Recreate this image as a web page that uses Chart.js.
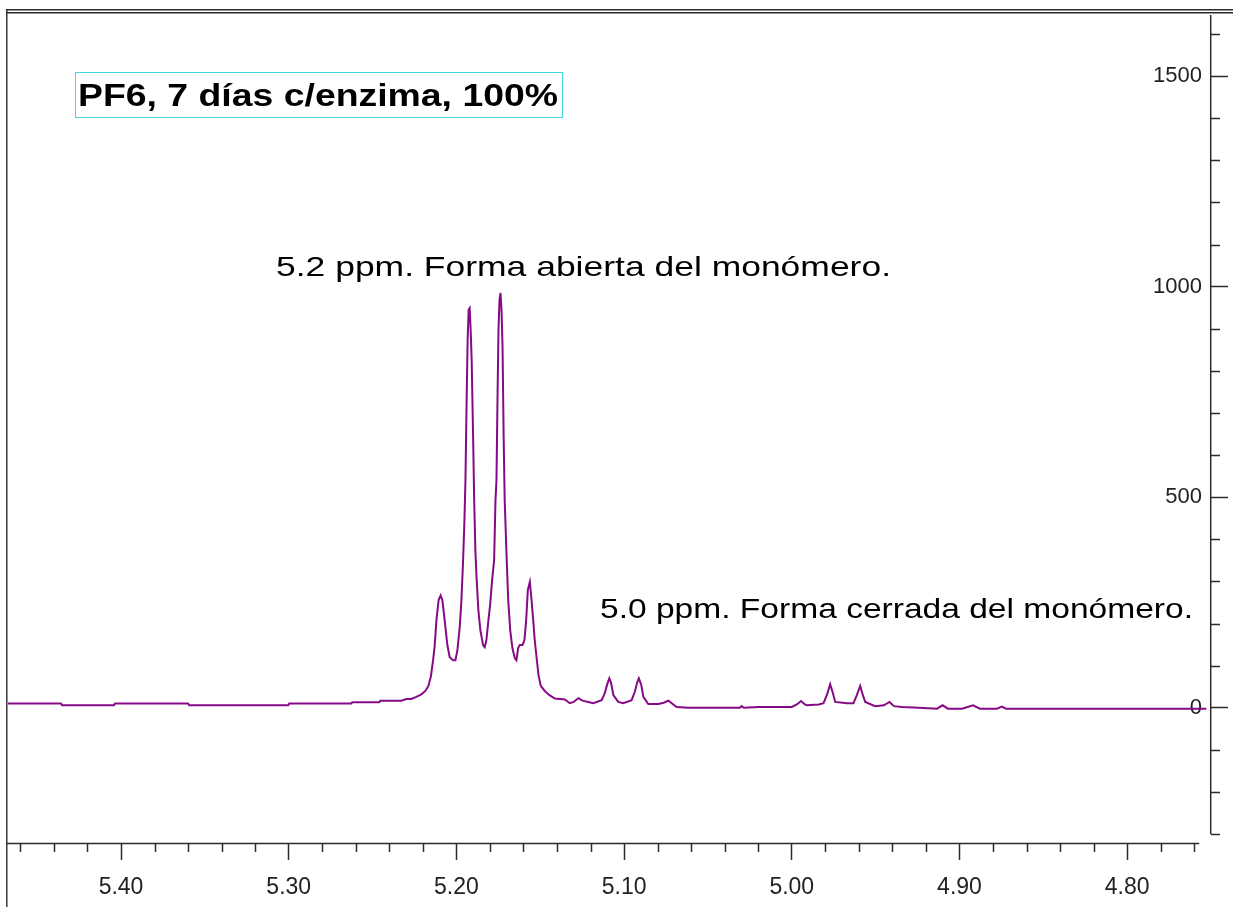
<!DOCTYPE html>
<html lang="es">
<head>
    <meta charset="UTF-8">
    <title>PF6, 7 días c/enzima, 100%</title>
    <script src="https://cdn.jsdelivr.net/npm/chart.js"></script>
    <style>
        body {
            margin: 0;
            padding: 0;
            background: #ffffff;
        }
        canvas {
            display: block;
        }
    </style>
</head>
<body>

    <canvas id="nmrChart" width="1233" height="907"></canvas>

    <script>
        // chemical shift (ppm) and intensity
        const ppm = [
            5.4675, 5.4358, 5.4352, 5.4042, 5.4036, 5.3600, 5.3594, 5.3003, 5.2997, 5.2627,
            5.2621, 5.2460, 5.2454, 5.2328, 5.2299, 5.2269, 5.2239, 5.2209, 5.2185, 5.2167,
            5.2152, 5.2139, 5.2130, 5.2119, 5.2106, 5.2094, 5.2084, 5.2070, 5.2054, 5.2040,
            5.2020, 5.2006, 5.1994, 5.1980, 5.1970, 5.1960, 5.1952, 5.1946, 5.1939, 5.1933,
            5.1927, 5.1921, 5.1915, 5.1909, 5.1900, 5.1894, 5.1887, 5.1879, 5.1869, 5.1857,
            5.1841, 5.1831, 5.1821, 5.1809, 5.1799, 5.1787, 5.1775, 5.1767, 5.1761, 5.1755,
            5.1749, 5.1743, 5.1737, 5.1731, 5.1725, 5.1718, 5.1712, 5.1701, 5.1691, 5.1679,
            5.1666, 5.1652, 5.1642, 5.1632, 5.1622, 5.1606, 5.1594, 5.1584, 5.1574, 5.1562,
            5.1552, 5.1542, 5.1533, 5.1522, 5.1510, 5.1497, 5.1473, 5.1445, 5.1413, 5.1353,
            5.1324, 5.1301, 5.1273, 5.1248, 5.1214, 5.1184, 5.1134, 5.1115, 5.1099, 5.1088,
            5.1078, 5.1064, 5.1035, 5.1005, 5.0955, 5.0936, 5.0922, 5.0912, 5.0898, 5.0885,
            5.0856, 5.0796, 5.0764, 5.0736, 5.0710, 5.0687, 5.0617, 5.0310, 5.0299, 5.0287,
            5.0199, 5.0000, 4.9970, 4.9945, 4.9922, 4.9910, 4.9839, 4.9811, 4.9791, 4.9771,
            4.9755, 4.9741, 4.9672, 4.9632, 4.9612, 4.9592, 4.9576, 4.9562, 4.9503, 4.9451,
            4.9417, 4.9391, 4.9343, 4.9242, 4.9134, 4.9101, 4.9069, 4.8985, 4.8919, 4.8878,
            4.8776, 4.8748, 4.8722, 4.7528
        ];
        const intensity = [
            10, 10, 6, 6, 10, 10, 6, 6, 10, 10,
            13, 13, 17, 17, 21, 21, 26, 32, 40, 52,
            75, 113, 145, 208, 256, 267, 256, 208, 149, 120,
            113, 113, 137, 192, 256, 351, 446, 541, 731, 873,
            945, 949, 897, 826, 636, 493, 375, 303, 232, 184,
            149, 144, 161, 208, 244, 303, 351, 493, 541, 731,
            897, 968, 985, 945, 861, 636, 493, 363, 256, 184,
            142, 118, 113, 142, 149, 149, 161, 208, 280, 299,
            256, 208, 161, 120, 77, 52, 40, 30, 22, 20,
            11, 14, 23, 17, 14, 11, 18, 35, 58, 70,
            60, 30, 14, 11, 18, 38, 60, 70, 55, 26,
            9, 9, 12, 17, 9, 2, 0, 0, 4, 0,
            2, 2, 8, 16, 8, 6, 8, 11, 30, 56,
            35, 14, 11, 11, 30, 52, 30, 14, 4, 6,
            14, 4, 2, 0, -2, 6, -2, -2, 6, -2,
            -2, 3, -2, -2
        ];

        const xMajorTicks = [5.40, 5.30, 5.20, 5.10, 5.00, 4.90, 4.80];
        const xTickLabels = ['5.40', '5.30', '5.20', '5.10', '5.00', '4.90', '4.80'];
        const xMinorTicks = [
            5.46, 5.44, 5.42, 5.38, 5.36, 5.34, 5.32, 5.28, 5.26, 5.24, 5.22,
            5.18, 5.16, 5.14, 5.12, 5.08, 5.06, 5.04, 5.02, 4.98, 4.96, 4.94, 4.92,
            4.88, 4.86, 4.84, 4.82, 4.78, 4.76
        ];
        const yMajorTicks = [0, 500, 1000, 1500];
        const yTickLabels = ['0', '500', '1000', '1500'];
        const yMinorTicks = [-300, -200, -100, 100, 200, 300, 400, 600, 700, 800, 900, 1100, 1200, 1300, 1400, 1600];

        const titleText = 'PF6, 7 días c/enzima, 100%';
        const noteOpen = '5.2 ppm. Forma abierta del monómero.';
        const noteClosed = '5.0 ppm. Forma cerrada del monómero.';

        const fontFamily = "'Liberation Sans', Arial, sans-serif";
        const axisColor = '#2b2b2b';

        // text in the original is a little wider than Arial, so stretch it to the measured width
        function drawStretched(ctx, text, font, left, midY, width) {
            ctx.save();
            ctx.font = font;
            const w = ctx.measureText(text).width;
            ctx.translate(left, midY);
            ctx.scale(width / w, 1);
            ctx.textAlign = 'left';
            ctx.textBaseline = 'middle';
            ctx.fillStyle = '#000000';
            ctx.fillText(text, 0, 0);
            ctx.restore();
        }

        const decorPlugin = {
            id: 'decor',
            beforeDraw(chart) {
                const ctx = chart.ctx;
                ctx.save();
                ctx.fillStyle = '#ffffff';
                ctx.fillRect(0, 0, chart.width, chart.height);
                ctx.restore();
            },
            afterDraw(chart) {
                const ctx = chart.ctx;
                const xs = chart.scales.x;
                const ys = chart.scales.y;
                const area = chart.chartArea;

                ctx.save();
                ctx.strokeStyle = axisColor;

                // double frame line at the top and the left edge
                ctx.lineWidth = 1.4;
                ctx.beginPath();
                ctx.moveTo(6, 9.7); ctx.lineTo(chart.width, 9.7);
                ctx.moveTo(6, 12.8); ctx.lineTo(chart.width, 12.8);
                ctx.moveTo(6.8, 9); ctx.lineTo(6.8, chart.height);
                ctx.stroke();

                // axis lines
                ctx.lineWidth = 1.5;
                ctx.beginPath();
                ctx.moveTo(area.left, area.bottom + 0.5);
                ctx.lineTo(xs.getPixelForValue(4.757), area.bottom + 0.5);
                ctx.moveTo(area.right - 0.3, area.top);
                ctx.lineTo(area.right - 0.3, ys.getPixelForValue(-300));
                ctx.stroke();

                // minor ticks
                ctx.beginPath();
                xMinorTicks.forEach(v => {
                    const px = Math.round(xs.getPixelForValue(v)) + 0.5;
                    ctx.moveTo(px, area.bottom);
                    ctx.lineTo(px, area.bottom + 9);
                });
                yMinorTicks.forEach(v => {
                    const py = Math.round(ys.getPixelForValue(v)) + 0.5;
                    ctx.moveTo(area.right, py);
                    ctx.lineTo(area.right + 9, py);
                });
                ctx.stroke();

                // title box
                ctx.strokeStyle = '#45d6e3';
                ctx.lineWidth = 1;
                ctx.strokeRect(75.5, 72.5, 487, 45);
                ctx.restore();

                drawStretched(ctx, titleText, 'bold 31px ' + fontFamily, 78, 97, 480);
                drawStretched(ctx, noteOpen, '28px ' + fontFamily, 276, 268, 615);
                drawStretched(ctx, noteClosed, '28px ' + fontFamily, 600, 610, 593);
            }
        };

        const points = ppm.map((p, i) => ({ x: p, y: intensity[i] }));

        const ctx = document.getElementById('nmrChart').getContext('2d');
        const chartInstance = new Chart(ctx, {
            type: 'line',
            data: {
                datasets: [{
                    label: 'PF6',
                    data: points,
                    borderColor: '#860a86',
                    borderWidth: 2,
                    pointRadius: 0,
                    tension: 0,
                    fill: false
                }]
            },
            options: {
                responsive: false,
                animation: false,
                devicePixelRatio: 1,
                layout: { padding: { left: 7, top: 15, right: 0, bottom: 0 } },
                plugins: {
                    legend: { display: false },
                    tooltip: { enabled: false }
                },
                scales: {
                    x: {
                        type: 'linear',
                        reverse: true,
                        min: 4.75,
                        max: 5.468,
                        afterBuildTicks: s => { s.ticks = xMajorTicks.map(v => ({ value: v })); },
                        afterFit: s => { s.height = 64; },
                        border: { display: false },
                        grid: {
                            drawOnChartArea: false,
                            tickLength: 17,
                            tickColor: axisColor,
                            tickWidth: 1.5
                        },
                        ticks: {
                            autoSkip: false,
                            maxRotation: 0,
                            padding: 14,
                            color: '#222222',
                            font: { family: fontFamily, size: 23 },
                            callback: (v, i) => xTickLabels[i]
                        }
                    },
                    y: {
                        type: 'linear',
                        position: 'right',
                        min: -321,
                        max: 1645,
                        afterBuildTicks: s => { s.ticks = yMajorTicks.map(v => ({ value: v })); },
                        afterFit: s => { s.width = 22; },
                        border: { display: false },
                        grid: {
                            drawOnChartArea: false,
                            tickLength: 17,
                            tickColor: axisColor,
                            tickWidth: 1.5
                        },
                        ticks: {
                            mirror: true,
                            padding: -9,
                            color: '#222222',
                            font: { family: fontFamily, size: 22 },
                            callback: (v, i) => yTickLabels[i]
                        }
                    }
                }
            },
            plugins: [decorPlugin]
        });
    </script>

</body>
</html>
